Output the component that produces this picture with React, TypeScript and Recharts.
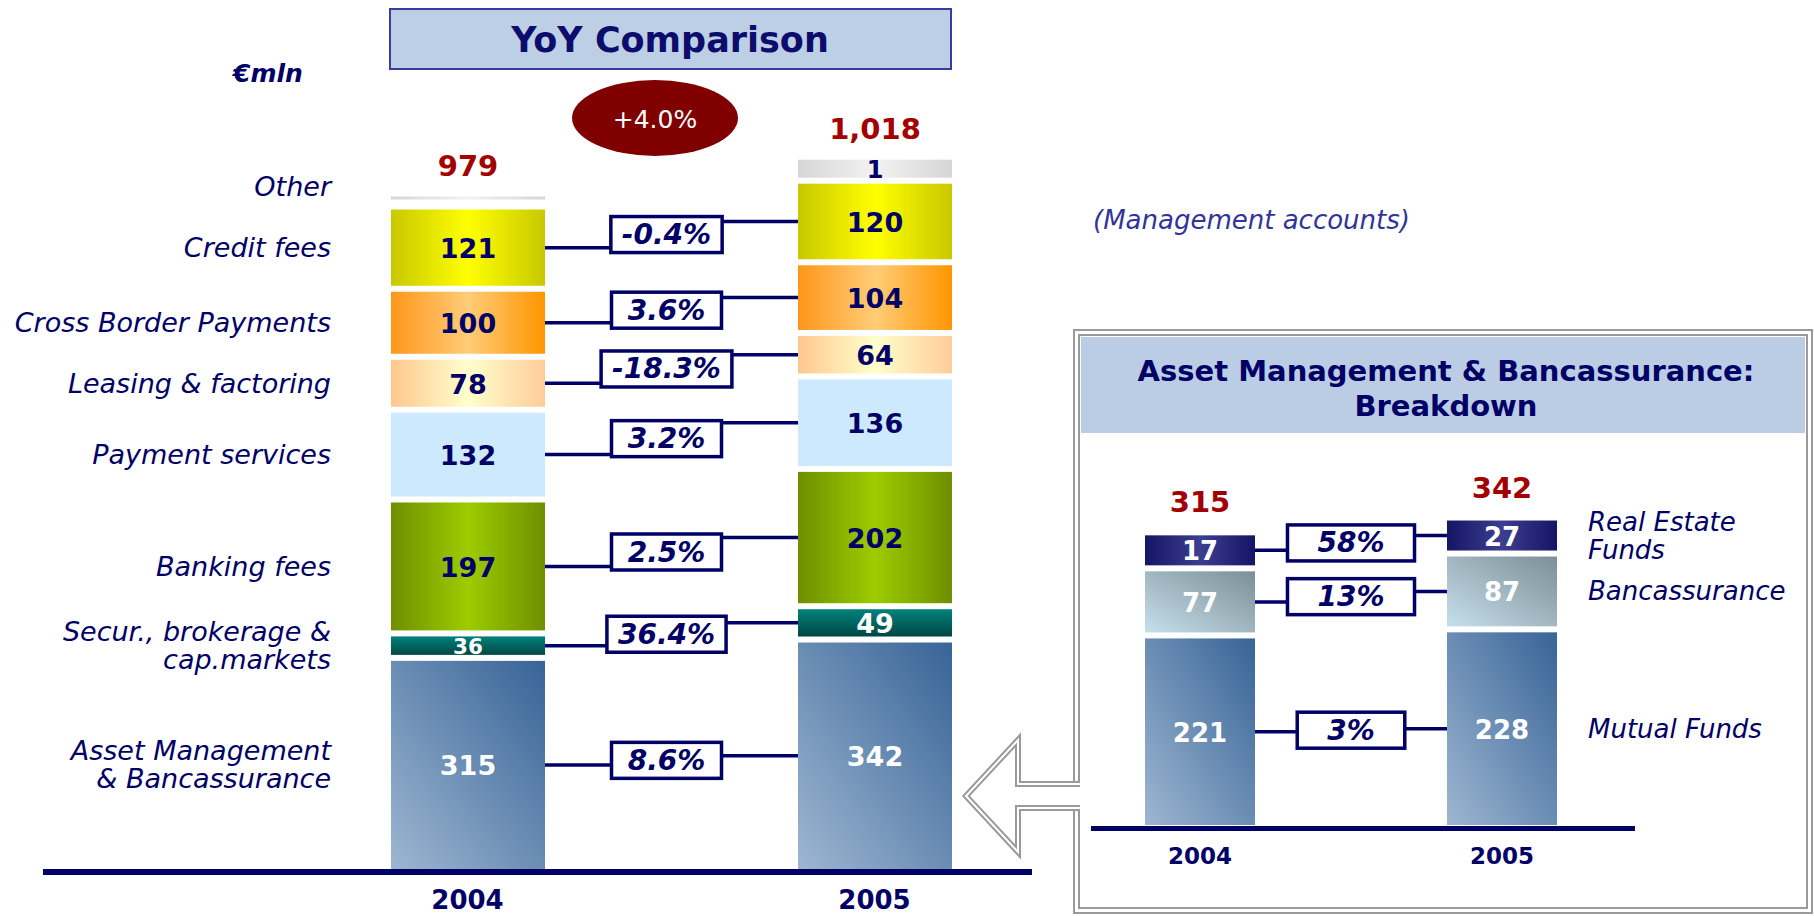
import React from 'react';
import { BarChart, Bar, XAxis, YAxis } from 'recharts';

const years = ['2004', '2005'];

// commission breakdown, €mln, bottom of the stack first
const assetManagement = [315, 342];
const securBrokerage = [36, 49];
const bankingFees = [197, 202];
const paymentServices = [132, 136];
const leasingFactoring = [78, 64];
const crossBorderPayments = [100, 104];
const creditFees = [121, 120];
const otherFees = [0, 1];

const yoyChange = ['8.6%', '36.4%', '2.5%', '3.2%', '-18.3%', '3.6%', '-0.4%'];
const totalChange = '+4.0%';

// asset management & bancassurance breakdown, bottom first
const mutualFunds = [221, 228];
const bancassurance = [77, 87];
const realEstateFunds = [17, 27];
const breakdownChange = ['3%', '13%', '58%'];

const NAVY = '#000066';
const RED = '#a30000';
const FONT = 'Verdana, "DejaVu Sans", sans-serif';
const GAP = 6;

const mainSeries = [
  { key: 'asset', values: assetManagement, label: ['Asset Management', '& Bancassurance'], fill: 'url(#gAsset)', text: '#fff' },
  { key: 'secur', values: securBrokerage, label: ['Secur., brokerage &', 'cap.markets'], fill: 'url(#gTeal)', text: '#fff' },
  { key: 'banking', values: bankingFees, label: ['Banking fees'], fill: 'url(#gGreen)', text: NAVY },
  { key: 'payment', values: paymentServices, label: ['Payment services'], fill: '#cce9fd', text: NAVY },
  { key: 'leasing', values: leasingFactoring, label: ['Leasing & factoring'], fill: 'url(#gPeach)', text: NAVY },
  { key: 'cross', values: crossBorderPayments, label: ['Cross Border Payments'], fill: 'url(#gOrange)', text: NAVY },
  { key: 'credit', values: creditFees, label: ['Credit fees'], fill: 'url(#gYellow)', text: NAVY },
  { key: 'other', values: otherFees, label: ['Other'], fill: 'url(#gGrey)', text: NAVY },
];

const insetSeries = [
  { key: 'mutual', values: mutualFunds, label: ['Mutual Funds'], fill: 'url(#gAsset2)' },
  { key: 'banca', values: bancassurance, label: ['Bancassurance'], fill: 'url(#gBanca)' },
  { key: 'real', values: realEstateFunds, label: ['Real Estate', 'Funds'], fill: 'url(#gNavy)' },
];

const sumAt = (series: { values: number[] }[], i: number) => series.reduce((a, s) => a + s.values[i], 0);
const mainTotals = years.map((_, i) => sumAt(mainSeries, i));
const insetTotals = years.map((_, i) => sumAt(insetSeries, i));

const mainRows = years.map((year, i) => {
  const row: Record<string, any> = { year };
  mainSeries.forEach((s) => (row[s.key] = s.values[i]));
  return row;
});
const insetRows = years.map((year, i) => {
  const row: Record<string, any> = { year };
  insetSeries.forEach((s) => (row[s.key] = s.values[i]));
  return row;
});

const boldW: Record<string, number> = { '.': 0.38, '%': 1.002, '-': 0.415, '+': 0.838 };
const textWidth = (s: string, size: number) =>
  s.split('').reduce((a, c) => a + (boldW[c] ?? 0.696), 0) * size;

// 2004 segment positions, read back when the 2005 segment draws its connector
const segPos: Record<string, { right: number; cy: number }> = {};

function Connector({ x1, y1, x2, y2, label, minW, pad, shift }: any) {
  const tw = textWidth(label, 28);
  const bw = Math.max(minW, tw + pad);
  const mid = (x1 + x2) / 2 + shift;
  const bl = mid - bw / 2;
  const br = mid + bw / 2;
  let t = Math.min(y1, y2);
  let b = Math.max(y1, y2);
  if (b - t < 36) {
    const m = (t + b) / 2;
    t = m - 18;
    b = m + 18;
  }
  return (
    <g>
      <line x1={x1} y1={y1} x2={bl} y2={y1} stroke={NAVY} strokeWidth={3.5} />
      <line x1={br} y1={y2} x2={x2} y2={y2} stroke={NAVY} strokeWidth={3.5} />
      <rect x={bl} y={t} width={bw} height={b - t} fill="#fff" stroke={NAVY} strokeWidth={3.5} />
      <text x={mid} y={(t + b) / 2} textAnchor="middle" dominantBaseline="central" fill={NAVY}
        fontSize={28} fontWeight={700} fontStyle="italic" fontFamily={FONT}>{label}</text>
    </g>
  );
}

function Lines({ x, cy, lines, anchor, size, color }: any) {
  return (
    <text x={x} textAnchor={anchor} fill={color} fontSize={size} fontStyle="italic" fontFamily={FONT}>
      {lines.map((l: string, k: number) => (
        <tspan key={k} x={x} y={cy + (k - (lines.length - 1) / 2) * 28} dominantBaseline="central">{l}</tspan>
      ))}
    </text>
  );
}

const mainShape = (si: number) => (props: any) => {
  const { x, y, width, height, payload } = props;
  const index = years.indexOf(payload.year);
  const s = mainSeries[si];
  const v = s.values[index];
  const top = Math.min(y, y + height);
  const h = Math.abs(height);
  const isOther = si === mainSeries.length - 1;
  let by = top + GAP / 2;
  let bh = Math.max(h - GAP, 0);
  if (isOther) {
    if (v === 0) { by = top - 10; bh = 3; } else { by = top + h - GAP / 2 - 18; bh = 18; }
  }
  const cy = by + bh / 2;
  segPos[`m${si}-${index}`] = { right: x + width, cy };
  const prev = segPos[`m${si}-0`];
  const fs = isOther ? 24 : Math.min(27, bh + 3);
  return (
    <g>
      <rect x={x} y={by} width={width} height={bh} fill={s.fill} />
      {v > 0 && (
        <text x={x + width / 2} y={cy + 1} textAnchor="middle" dominantBaseline="central" fill={s.text}
          fontSize={fs} fontWeight={700} fontFamily={FONT}>{v}</text>
      )}
      {index === 0 && (
        <Lines x={x - 60} cy={isOther ? cy - 12 : cy} lines={s.label} anchor="end" size={27} color={NAVY} />
      )}
      {isOther && (
        <text x={x + width / 2} y={by - 31} textAnchor="middle" dominantBaseline="central" fill={RED}
          fontSize={29} fontWeight={700} fontFamily={FONT}>{mainTotals[index].toLocaleString('en-US')}</text>
      )}
      {index === 1 && si < yoyChange.length && prev && (
        <Connector x1={prev.right} y1={prev.cy} x2={x} y2={cy} label={yoyChange[si]} minW={110} pad={22} shift={-5} />
      )}
    </g>
  );
};

const insetShape = (si: number) => (props: any) => {
  const { x, y, width, height, payload } = props;
  const index = years.indexOf(payload.year);
  const s = insetSeries[si];
  const v = s.values[index];
  const top = Math.min(y, y + height);
  const h = Math.abs(height);
  const isTop = si === insetSeries.length - 1;
  let bh = Math.max(h - GAP, 0);
  if (isTop) bh = Math.max(bh, 30);
  const by = top + h - GAP / 2 - bh;
  const cy = by + bh / 2;
  segPos[`i${si}-${index}`] = { right: x + width, cy };
  const prev = segPos[`i${si}-0`];
  return (
    <g>
      <rect x={x} y={by} width={width} height={bh} fill={s.fill} />
      <text x={x + width / 2} y={cy + 1} textAnchor="middle" dominantBaseline="central" fill="#fff"
        fontSize={26} fontWeight={700} fontFamily={FONT}>{v}</text>
      {isTop && (
        <text x={x + width / 2} y={by - 33} textAnchor="middle" dominantBaseline="central" fill={RED}
          fontSize={29} fontWeight={700} fontFamily={FONT}>{insetTotals[index]}</text>
      )}
      {index === 1 && (
        <Lines x={x + width + 31} cy={cy} lines={s.label} anchor="start" size={26} color={NAVY} />
      )}
      {index === 1 && prev && (
        <Connector x1={prev.right} y1={prev.cy} x2={x} y2={cy} label={breakdownChange[si]} minW={100} pad={60} shift={0} />
      )}
    </g>
  );
};

export default function App() {
  return (
    <div style={{ position: 'absolute', left: 0, top: 0, width: 1814, height: 916, background: '#fff', overflow: 'hidden' }}>
      <svg width={1814} height={916} style={{ position: 'absolute', left: 0, top: 0 }}>
        <defs>
          <linearGradient id="gAsset" x1="0" y1="1" x2="1" y2="0">
            <stop offset="0" stopColor="#9db6d1" />
            <stop offset="1" stopColor="#386497" />
          </linearGradient>
          <linearGradient id="gAsset2" x1="0" y1="1" x2="1" y2="0">
            <stop offset="0" stopColor="#9db6d1" />
            <stop offset="1" stopColor="#386497" />
          </linearGradient>
          <linearGradient id="gTeal" x1="0" y1="0" x2="0" y2="1">
            <stop offset="0" stopColor="#00827c" />
            <stop offset="1" stopColor="#004744" />
          </linearGradient>
          <linearGradient id="gGreen" x1="0" y1="0" x2="1" y2="0">
            <stop offset="0" stopColor="#6e8f00" />
            <stop offset="0.5" stopColor="#9ccc00" />
            <stop offset="1" stopColor="#6e8f00" />
          </linearGradient>
          <linearGradient id="gPeach" x1="0" y1="0" x2="1" y2="0">
            <stop offset="0" stopColor="#ffc78e" />
            <stop offset="0.5" stopColor="#ffffcc" />
            <stop offset="1" stopColor="#ffcc99" />
          </linearGradient>
          <linearGradient id="gOrange" x1="0" y1="0" x2="1" y2="0">
            <stop offset="0" stopColor="#ff961a" />
            <stop offset="0.5" stopColor="#ffcc77" />
            <stop offset="1" stopColor="#ff9500" />
          </linearGradient>
          <linearGradient id="gYellow" x1="0" y1="0" x2="1" y2="0">
            <stop offset="0" stopColor="#c8c800" />
            <stop offset="0.5" stopColor="#ffff00" />
            <stop offset="1" stopColor="#c8c800" />
          </linearGradient>
          <linearGradient id="gGrey" x1="0" y1="0" x2="1" y2="0">
            <stop offset="0" stopColor="#d6d6d6" />
            <stop offset="0.5" stopColor="#f2f2f2" />
            <stop offset="1" stopColor="#d6d6d6" />
          </linearGradient>
          <linearGradient id="gNavy" x1="0" y1="0" x2="1" y2="0">
            <stop offset="0" stopColor="#151565" />
            <stop offset="0.5" stopColor="#3e3e90" />
            <stop offset="1" stopColor="#151565" />
          </linearGradient>
          <linearGradient id="gBanca" x1="0" y1="1" x2="1" y2="0">
            <stop offset="0" stopColor="#c6dfeb" />
            <stop offset="1" stopColor="#7b8f96" />
          </linearGradient>
        </defs>

        {/* title */}
        <rect x={390} y={9} width={561} height={60} fill="#bdcfe5" stroke="#3b3ba0" strokeWidth={2} />
        <text x={670} y={40} textAnchor="middle" dominantBaseline="central" fill="#0c0c6c" fontSize={35} fontWeight={700} fontFamily={FONT}>YoY Comparison</text>
        <text x={268} y={73} textAnchor="middle" dominantBaseline="central" fill={NAVY} fontSize={25} fontWeight={700} fontStyle="italic" fontFamily={FONT}>€mln</text>
        <ellipse cx={655} cy={118} rx={83} ry={38} fill="#800000" />
        <text x={655} y={119} textAnchor="middle" dominantBaseline="central" fill="#fff" fontSize={25} fontFamily={FONT}>{totalChange}</text>
        <text x={1093} y={220} dominantBaseline="central" fill="#333399" fontSize={26} fontStyle="italic" fontFamily={FONT}>(Management accounts)</text>

        {/* main baseline */}
        <rect x={43} y={869} width={989} height={6} fill={NAVY} />

        {/* breakdown panel */}
        <rect x={1074} y={330} width={738} height={583} fill="#fff" stroke="#9a9a9a" strokeWidth={2} />
        <rect x={1079} y={335} width={728} height={573} fill="none" stroke="#9a9a9a" strokeWidth={2} />
        <rect x={1081} y={337} width={724} height={96} fill="#bacde4" />
        <text x={1446} y={371} textAnchor="middle" dominantBaseline="central" fill={NAVY} fontSize={29} fontWeight={700} fontFamily={FONT}>Asset Management &amp; Bancassurance:</text>
        <text x={1446} y={406} textAnchor="middle" dominantBaseline="central" fill={NAVY} fontSize={29} fontWeight={700} fontFamily={FONT}>Breakdown</text>
        <rect x={1091} y={826} width={544} height={5} fill={NAVY} />

        {/* arrow into the panel */}
        <path d="M1080,784 L1018,784 L1018,740 L966,796 L1018,852 L1018,808 L1080,808" fill="#fff" stroke="#9a9a9a" strokeWidth={6} />
        <path d="M1080,784 L1018,784 L1018,740 L966,796 L1018,852 L1018,808 L1080,808" fill="none" stroke="#fff" strokeWidth={2} />
      </svg>

      <div style={{ position: 'absolute', left: 0, top: 0 }}>
        <BarChart width={1080} height={916} data={mainRows} margin={{ top: 180, right: 2, bottom: 4, left: 264 }} barSize={154}>
          <XAxis dataKey="year" axisLine={false} tickLine={false} tickSize={0} tickMargin={19} height={40} interval={0}
            tick={{ fill: NAVY, fontSize: 26, fontWeight: 700, fontFamily: FONT }} />
          <YAxis hide domain={[0, Math.max(...mainTotals)]} />
          {mainSeries.map((s, si) => (
            <Bar key={s.key} dataKey={s.key} stackId="fees" isAnimationActive={false} shape={mainShape(si)} />
          ))}
        </BarChart>
      </div>

      <div style={{ position: 'absolute', left: 1049, top: 460 }}>
        <BarChart width={760} height={456} data={insetRows} margin={{ top: 70, right: 156, bottom: 58, left: 0 }} barSize={110}>
          <XAxis dataKey="year" axisLine={false} tickLine={false} tickSize={0} tickMargin={20} height={30} interval={0}
            tick={{ fill: NAVY, fontSize: 23, fontWeight: 700, fontFamily: FONT }} />
          <YAxis hide domain={[0, Math.max(...insetTotals)]} />
          {insetSeries.map((s, si) => (
            <Bar key={s.key} dataKey={s.key} stackId="am" isAnimationActive={false} shape={insetShape(si)} />
          ))}
        </BarChart>
      </div>
    </div>
  );
}
